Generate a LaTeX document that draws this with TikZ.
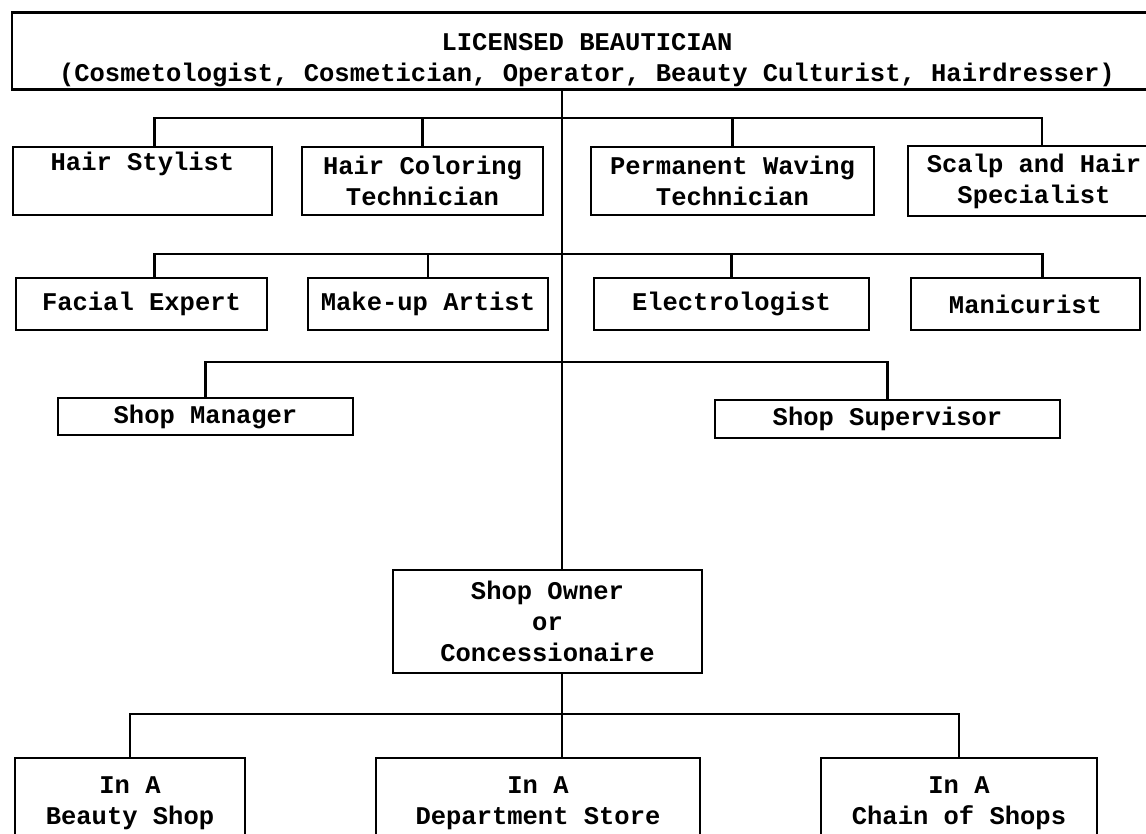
\documentclass[tikz,border=0pt]{standalone}
\usepackage{fontspec}
\setmonofont{Liberation Mono}

\begin{document}
\begin{tikzpicture}[x=1pt, y=-1pt,
		box/.style={draw, line width=2.4pt, inner sep=0pt, align=center, font=\ttfamily\bfseries\fontsize{25.5}{31}\selectfont},
		link/.style={line width=2.4pt}]
			%%%%% START %%%%%
			\useasboundingbox (0,0) rectangle (1146,834);
			\clip (0,0) rectangle (1146,834);
			
			\node[box, minimum width=1150, minimum height=77] (lic) at (587,51) {\rule{0pt}{35pt}LICENSED BEAUTICIAN\\(Cosmetologist, Cosmetician, Operator, Beauty Culturist, Hairdresser)};
			
			% first row
			\node[box, minimum width=259, minimum height=68] (hs) at (142.5,181) {Hair Stylist\\\strut};
			\node[box, minimum width=241, minimum height=68] (hc) at (422.5,181) {Hair Coloring\\Technician};
			\node[box, minimum width=283, minimum height=68] (pw) at (732.5,181) {Permanent Waving\\Technician};
			\node[box, minimum width=252, minimum height=70] (sh) at (1034,181) {Scalp and Hair\\Specialist};
			
			% second row
			\node[box, minimum width=251, minimum height=52] (fe) at (141.5,304) {Facial Expert};
			\node[box, minimum width=240, minimum height=52] (ma) at (428,304) {Make-up Artist};
			\node[box, minimum width=275, minimum height=52] (el) at (731.5,304) {Electrologist};
			\node[box, minimum width=229, minimum height=52] (mn) at (1025.5,304) {Manicurist};
			
			\node[box, minimum width=295, minimum height=37] (sm) at (205.5,416.5) {Shop Manager};
			\node[box, minimum width=345, minimum height=38] (ss) at (887.5,419) {Shop Supervisor};
			
			\node[box, minimum width=309, minimum height=103] (so) at (547.5,621.5) {Shop Owner\\or\\Concessionaire};
			
			\node[box, minimum width=230, minimum height=90] (bs) at (130,803) {In A\\Beauty Shop};
			\node[box, minimum width=324, minimum height=90] (ds) at (538,803) {In A\\Department Store};
			\node[box, minimum width=276, minimum height=90] (cs) at (959,803) {In A\\Chain of Shops};
			
			% lines
			\coordinate (trunk) at (562,0);
			\coordinate (r1) at (562,118);
			\coordinate (r2) at (562,254);
			\coordinate (r3) at (562,362);
			\coordinate (r4) at (562,714);
			
			\draw[link] (lic.south -| trunk) -- (so.north -| trunk);
			\draw[link] (so.south -| trunk) -- (ds.north -| trunk);
			
			\draw[link] ([xshift=12]hs.north) |- (r1) -| ([xshift=8]sh.north);
			\draw[link] (hc.north) -- (hc.north |- r1);
			\draw[link] (pw.north) -- (pw.north |- r1);
			
			\draw[link] ([xshift=13]fe.north) |- (r2) -| ([xshift=17]mn.north);
			\draw[link] (ma.north) -- (ma.north |- r2);
			\draw[link] (el.north) -- (el.north |- r2);
			
			\draw[link] (sm.north) |- (r3) -| (ss.north);
			
			\draw[link] (bs.north) |- (r4) -| (cs.north);
			%%%%% END %%%%%
\end{tikzpicture}
\end{document}
